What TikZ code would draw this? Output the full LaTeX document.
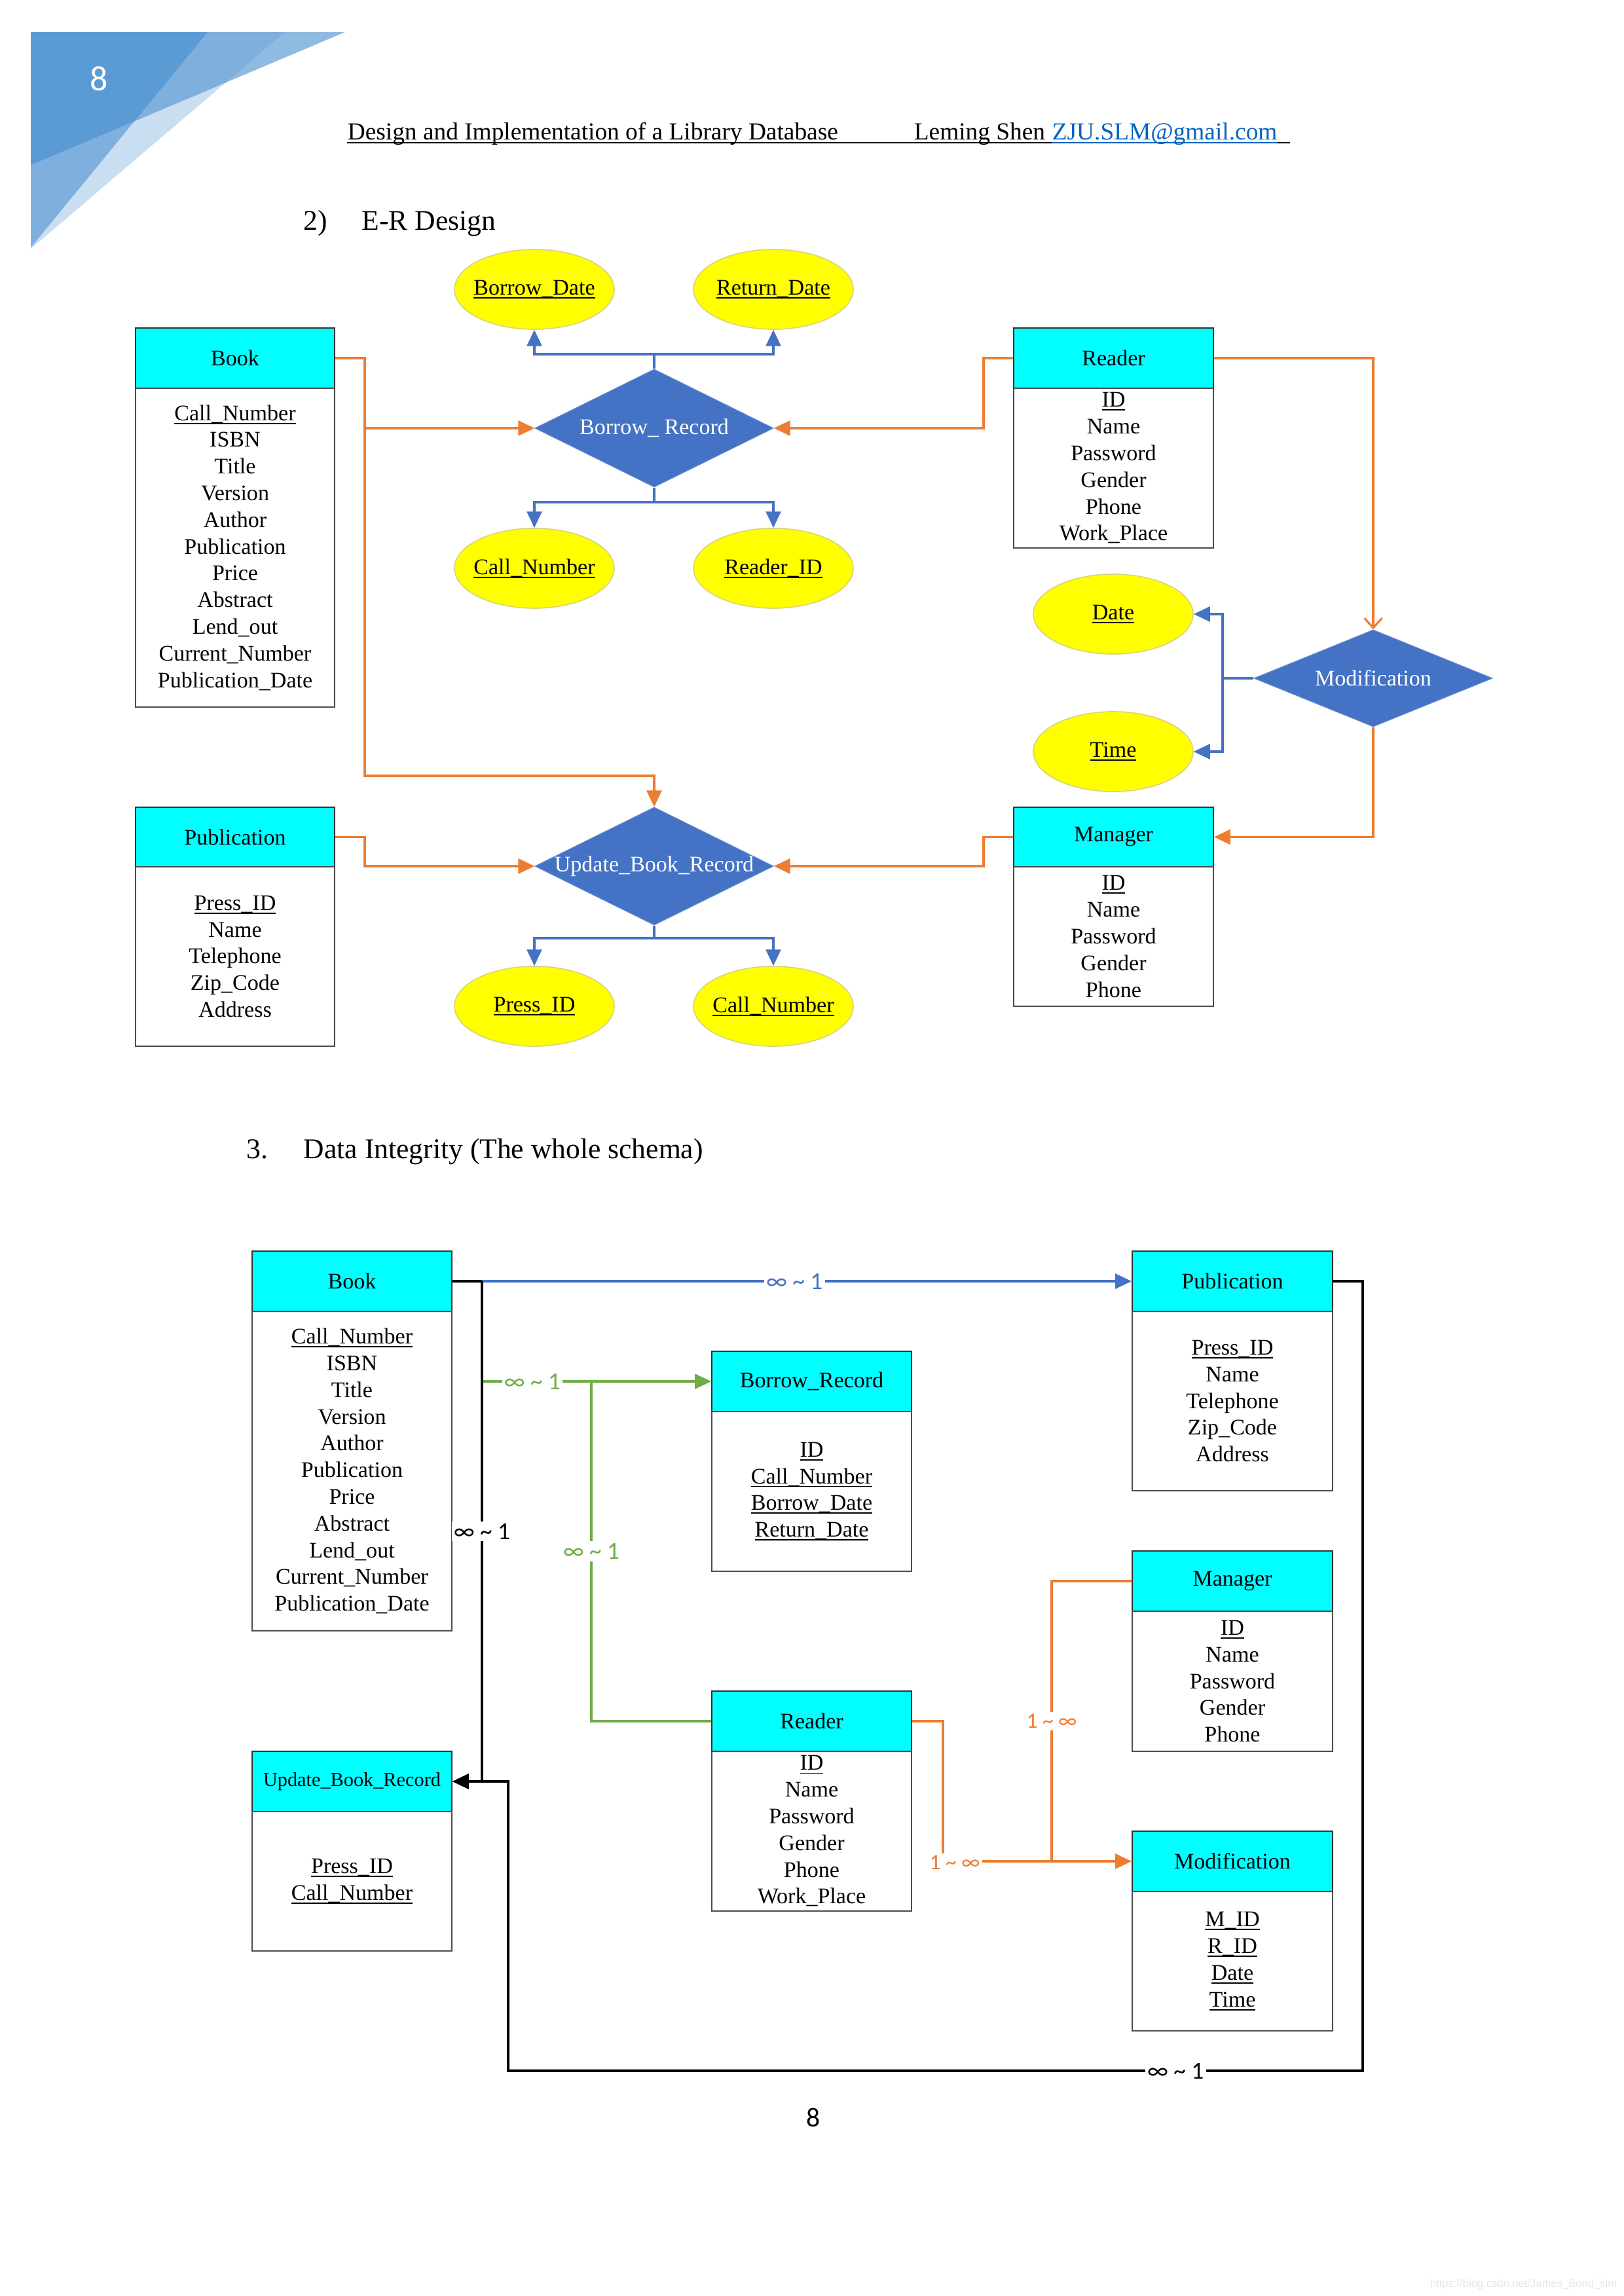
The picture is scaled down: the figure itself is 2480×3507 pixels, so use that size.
\documentclass[tikz,border=0pt]{standalone}
\usepackage{fontspec}
\setmainfont{Liberation Serif}
\newfontfamily\calfont{Carlito}
\newfontfamily\arialfont{Liberation Sans}
\usetikzlibrary{arrows.meta,shapes.geometric}
\newdimen\pxu \pxu=0.2409pt
\definecolor{orng}{HTML}{ED7D31}
\definecolor{blu}{HTML}{4472C4}
\definecolor{grn}{HTML}{70AD47}
\definecolor{cyanhdr}{HTML}{00FFFF}
\definecolor{yel}{HTML}{FFFF00}
\definecolor{yelline}{HTML}{D9D47A}
\definecolor{mail}{HTML}{0563C1}
\definecolor{bA}{HTML}{5B9BD5}
\definecolor{bB}{HTML}{7EAFDD}
\definecolor{bC}{HTML}{8FBAE2}
\definecolor{bD}{HTML}{C9DEF1}
\newcommand\dfont{\fontsize{8.2}{9.83}\selectfont}
\newcommand\uln[1]{\setbox0\hbox{#1}\leavevmode\rlap{\rule[-1.3pt]{\wd0}{0.45pt}}\box0}
\newcommand\infone{∞ \textasciitilde{} 1}
\newcommand\oneinf{1 \textasciitilde{} ∞}
% #1 name, #2 x1, #3 x2, #4 ytop, #5 ymid, #6 ybot, #7 title, #8 body
\newcommand\entitybox[8]{%
  \node[hdr, minimum width={(#3-#2)*\pxu}, minimum height={(#5-#4)*\pxu}] (#1) at ({(#2+#3)/2},{(#4+#5)/2}) {#7};
  \node[bdy, minimum width={(#3-#2)*\pxu}, minimum height={(#6-#5)*\pxu}] (#1b) at ({(#2+#3)/2},{(#5+#6)/2}) {#8};
}
\newcommand\attrell[4]{%
  \node[ell] (#1) at (#2,#3) {};
  \node[elltext] (#1t) at (#1) {\uln{#4}};
}
\newcommand\relation[6]{% name x y w h text
  \node[dia, minimum width={#4*\pxu}, minimum height={#5*\pxu}] (#1) at (#2,#3) {};
  \node[diatext] (#1t) at (#1) {#6};
}
\tikzset{
  hdr/.style={draw=black!80, line width=0.45pt, fill=cyanhdr, inner sep=0, font=\dfont},
  bdy/.style={draw=black!70, line width=0.45pt, fill=white, inner sep=0, align=center, font=\dfont},
  dia/.style={diamond, fill=blu, draw=blu!85!white, line width=0.3pt, inner sep=0},
  diatext/.style={text=white, font=\dfont, inner sep=0},
  ell/.style={ellipse, fill=yel, draw=yelline, line width=0.4pt, inner sep=0, minimum width={244*\pxu}, minimum height={122*\pxu}},
  elltext/.style={font=\dfont, inner sep=0},
  oline/.style={draw=orng, line width=0.75pt},
  bline/.style={draw=blu, line width=0.75pt},
  gline/.style={draw=grn, line width=0.75pt},
  kline/.style={draw=black, line width=0.9pt},
  tip/.style={-{Triangle[length=6pt,width=5.5pt]}},
  barbtip/.style={-{Straight Barb[length=3.6pt,width=6.5pt]}},
  lbl/.style={fill=white, inner sep=0.8pt, font=\calfont\fontsize{9}{10}\selectfont},
  lblsmall/.style={fill=white, inner sep=0.8pt, font=\calfont\fontsize{8}{9}\selectfont, text=orng},
}
\begin{document}
\begin{tikzpicture}[x=0.2409pt, y=-0.2409pt]
\useasboundingbox (0,0) rectangle (2480,3507);
\fill[white] (0,0) rectangle (2480,3507);

% ---- corner decoration
\def\Tone{(47,49) -- (527,49) -- (47,252) -- cycle}
\def\Ttwo{(47,49) -- (317,49) -- (47,378) -- cycle}
\def\Tthree{(47,49) -- (435,49) -- (47,380) -- cycle}
\fill[bD] \Tthree;
\fill[bC] \Tone;
\begin{scope}\clip \Tone; \fill[bB] \Tthree; \end{scope}
\fill[bB] \Ttwo;
\begin{scope}\clip \Tone; \fill[bA] \Ttwo; \end{scope}
\node[text=white, font=\calfont\fontsize{13}{15}\selectfont, inner sep=0] (pgtop) at (151,120) {8};

% ---- running header
\node[anchor=base west, inner sep=0, font=\fontsize{9}{11}\selectfont] (hd1) at (530,213) {Design and Implementation of a Library Database};
\node[anchor=base west, inner sep=0, font=\fontsize{9}{11}\selectfont] (hd2) at (1395,213) {Leming Shen};
\node[anchor=base west, inner sep=0, font=\fontsize{9}{11}\selectfont, text=mail] (hd3) at (1606,213) {ZJU.SLM@gmail.com};
\draw[line width=0.5pt] (530,218) -- (1606,218);
\draw[line width=0.5pt, mail] (1606,218) -- (1951,218);
\draw[line width=0.5pt] (1951,218) -- (1970,218);

% ---- section titles
\node[anchor=base west, inner sep=0, font=\fontsize{10.5}{12}\selectfont] (t2a) at (463,351) {2)};
\node[anchor=base west, inner sep=0, font=\fontsize{10.5}{12}\selectfont] (t2b) at (552,351) {E-R Design};
\node[anchor=base west, inner sep=0, font=\fontsize{10.5}{12}\selectfont] (t3a) at (376,1769) {3.};
\node[anchor=base west, inner sep=0, font=\fontsize{10.5}{12}\selectfont] (t3b) at (463,1769) {Data Integrity (The whole schema)};

% ================= E-R design =================
\entitybox{eBook}{207}{511}{501}{593}{1080}{Book}{\uln{Call\_Number}\\ISBN\\Title\\Version\\Author\\Publication\\Price\\Abstract\\Lend\_out\\Current\_Number\\Publication\_Date}
\entitybox{eReader}{1548}{1853}{501}{593}{837}{Reader}{\uln{ID}\\Name\\Password\\Gender\\Phone\\Work\_Place}
\entitybox{ePub}{207}{511}{1233}{1324}{1598}{Publication}{\uln{Press\_ID}\\Name\\Telephone\\Zip\_Code\\Address}
\entitybox{eMgr}{1548}{1853}{1233}{1324}{1537}{Manager}{\uln{ID}\\Name\\Password\\Gender\\Phone}

\relation{bR}{999}{654}{364}{180}{Borrow\_ Record}
\relation{uR}{999}{1323}{364}{180}{Update\_Book\_Record}
\relation{mD}{2097}{1036}{364}{148}{Modification}

\attrell{bdE}{816}{442}{Borrow\_Date}
\attrell{rdE}{1181}{442}{Return\_Date}
\attrell{cnE}{816}{868}{Call\_Number}
\attrell{riE}{1181}{868}{Reader\_ID}
\attrell{dtE}{1700}{938}{Date}
\attrell{tmE}{1700}{1148}{Time}
\attrell{piE}{816}{1537}{Press\_ID}
\attrell{cmE}{1181}{1537}{Call\_Number}

% orange connectors
\coordinate (jB) at (557,654);
\coordinate (jU) at (557,1185);
\coordinate (jR) at (1502,654);
\coordinate (jM) at (1502,1323);
\coordinate (jP) at (557,1323);
\draw[oline] (eBook.east) -| (jB);
\draw[oline, tip] (jB) -- (bR.west);
\draw[oline, tip] (jB) -- (jU) -| (uR.north);
\draw[oline, tip] (eReader.west) -| (jR) -- (bR.east);
\draw[oline, barbtip] (eReader.east) -| (mD.north);
\draw[oline, tip] (mD.south) |- (eMgr.east);
\draw[oline, tip] (eMgr.west) -| (jM) -- (uR.east);
\draw[oline, tip] (ePub.east) -| (jP) -- (uR.west);

% blue connectors
\coordinate (bt) at (999,541);
\coordinate (bb) at (999,767);
\coordinate (ub) at (999,1433);
\coordinate (mb) at (1867,1036);
\draw[bline] (bR.north) -- (bt);
\draw[bline, tip] (bt) -| (bdE.south);
\draw[bline, tip] (bt) -| (rdE.south);
\draw[bline] (bR.south) -- (bb);
\draw[bline, tip] (bb) -| (cnE.north);
\draw[bline, tip] (bb) -| (riE.north);
\draw[bline] (uR.south) -- (ub);
\draw[bline, tip] (ub) -| (piE.north);
\draw[bline, tip] (ub) -| (cmE.north);
\draw[bline] (mD.west) -- (mb);
\draw[bline, tip] (mb) |- (dtE.east);
\draw[bline, tip] (mb) |- (tmE.east);

% ================= schema =================
\entitybox{sBook}{385}{690}{1911}{2003}{2491}{Book}{\uln{Call\_Number}\\ISBN\\Title\\Version\\Author\\Publication\\Price\\Abstract\\Lend\_out\\Current\_Number\\Publication\_Date}
\entitybox{sBorrow}{1087}{1392}{2064}{2156}{2400}{Borrow\_Record}{\uln{ID}\\\uln{Call\_Number}\\\uln{Borrow\_Date}\\\uln{Return\_Date}}
\entitybox{sPub}{1729}{2035}{1911}{2003}{2277}{Publication}{\uln{Press\_ID}\\Name\\Telephone\\Zip\_Code\\Address}
\entitybox{sMgr}{1729}{2035}{2369}{2461}{2675}{Manager}{\uln{ID}\\Name\\Password\\Gender\\Phone}
\entitybox{sMod}{1729}{2035}{2797}{2889}{3102}{Modification}{\uln{M\_ID}\\\uln{R\_ID}\\\uln{Date}\\\uln{Time}}
\entitybox{sReader}{1087}{1392}{2583}{2675}{2919}{Reader}{\uln{ID}\\Name\\Password\\Gender\\Phone\\Work\_Place}
\entitybox{sUpd}{385}{690}{2675}{2767}{2980}{{\fontsize{7.3}{8.5}\selectfont Update\_Book\_Record}}{\uln{Press\_ID}\\\uln{Call\_Number}}

\coordinate (k1) at (736,1957);
\coordinate (k4) at (2081,3163);
\coordinate (k5) at (776,3163);
\coordinate (g1) at (736,2110);
\coordinate (g2) at (903,2110);
\coordinate (o1) at (1440,2843);
\coordinate (o2) at (1606,2843);

% blue Book -> Publication
\draw[bline, tip] (k1) -- node[lbl, text=blu, pos=0.481] (L1) {\infone} (sPub.west);
% green Book/Reader -> Borrow_Record
\draw[gline, tip] (g1) -- node[lbl, text=grn, pos=0.22] (L2) {\infone} (sBorrow.west);
\draw[gline] (sReader.west) -| node[lbl, text=grn, pos=0.75] (L3) {\infone} (g2);
% black Book -> Update, Publication -> Update
\draw[kline] (sBook.east) -- (k1);
\draw[kline, tip] (k1) -- node[lbl, pos=0.5] (L4) {\infone} (k1 |- sUpd.east) -- (sUpd.east);
\draw[kline, tip] (sPub.east) -| (k4) -- node[lbl, pos=0.219] (L5) {\infone} (k5) -- (k5 |- sUpd.east) -- (sUpd.east);
% orange Reader/Manager -> Modification
\draw[oline] (sReader.east) -| (o1);
\draw[oline, tip] (o1) -- (sMod.west);
\draw[oline] (sMgr.west) -| node[lblsmall, pos=0.75] (L7) {\oneinf} (o2);
\node[lblsmall] (L6) at (1458,2845) {\oneinf};

% page number and watermark
\node[font=\calfont\fontsize{10}{12}\selectfont, inner sep=0] (pgbot) at (1242,3234) {8};
\node[anchor=base east, inner sep=0, text=black!10, font=\arialfont\fontsize{4}{5}\selectfont] (wm) at (2470,3493) {https://blog.csdn.net/James\_Bond\_slm};
\end{tikzpicture}
\end{document}
